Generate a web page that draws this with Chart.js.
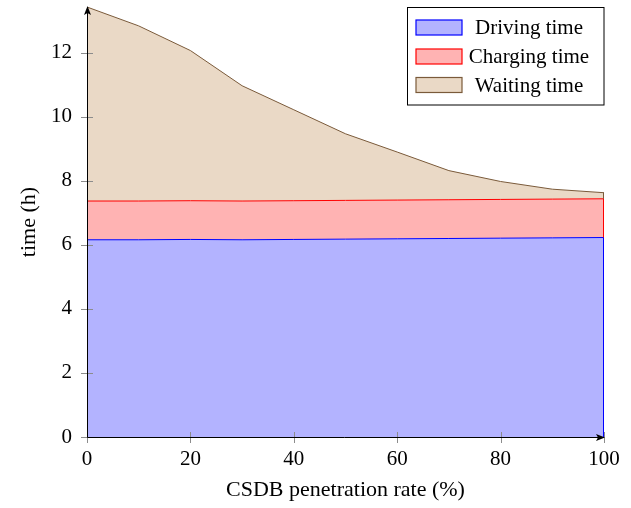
<!DOCTYPE html>
<html>
<head>
<meta charset="utf-8">
<script src="https://cdn.jsdelivr.net/npm/chart.js"></script>
<style>
  body { margin:0; padding:0; background:#ffffff }
  canvas { display:block }
</style>
</head>
<body>
<canvas id="chart" width="631" height="508"></canvas>
<script>
// values
const penetration = [0, 10, 20, 30, 40, 50, 60, 70, 80, 90, 100];
const drivingTime = [6.16, 6.16, 6.17, 6.16, 6.17, 6.18, 6.19, 6.20, 6.21, 6.22, 6.23];
const chargingTime = [1.21, 1.21, 1.21, 1.21, 1.21, 1.21, 1.21, 1.21, 1.21, 1.21, 1.21];
const waitingTime = [6.06, 5.47, 4.69, 3.60, 2.84, 2.08, 1.50, 0.91, 0.56, 0.31, 0.19];
const seriesNames = ['Driving time', 'Charging time', 'Waiting time'];
const xTicks = [0, 20, 40, 60, 80, 100];
const yTicks = [0, 2, 4, 6, 8, 10, 12];
const yMax = 13.43;

const serif = '"Liberation Serif", "Times New Roman", serif';
const toPoints = vals => vals.map((v, i) => ({ x: penetration[i], y: v }));

// axis lines with arrows, crossing ticks, closing edges, legend box
const paperPlugin = {
  id: 'paper',
  afterDatasetsDraw(chart) {
    const { ctx, chartArea: a, scales: { x, y } } = chart;
    ctx.save();

    // right-hand closing edge of every filled band
    let prev = null;
    chart.data.datasets.forEach((ds, i) => {
      const pts = chart.getDatasetMeta(i).data;
      const last = pts[pts.length - 1];
      const base = prev ? prev.y : y.getPixelForValue(0);
      ctx.strokeStyle = ds.borderColor;
      ctx.lineWidth = 1;
      ctx.beginPath();
      ctx.moveTo(Math.round(last.x) - 0.5, base);
      ctx.lineTo(Math.round(last.x) - 0.5, last.y);
      ctx.stroke();
      prev = last;
    });

    // ticks
    ctx.strokeStyle = '#8c8c8c';
    ctx.lineWidth = 1;
    ctx.beginPath();
    yTicks.forEach(t => {
      const py = Math.round(y.getPixelForValue(t)) + 0.5;
      ctx.moveTo(a.left - 6, py);
      ctx.lineTo(a.left + 6, py);
    });
    xTicks.forEach(t => {
      const px = Math.round(x.getPixelForValue(t)) + 0.5;
      ctx.moveTo(px, a.bottom - 5);
      ctx.lineTo(px, a.bottom + 6);
    });
    ctx.stroke();

    // axis lines
    const x0 = Math.round(a.left) + 0.5, y0 = Math.round(a.bottom) + 0.5;
    ctx.strokeStyle = '#000';
    ctx.beginPath();
    ctx.moveTo(x0, y0);
    ctx.lineTo(x0, a.top + 2);
    ctx.moveTo(x0, y0);
    ctx.lineTo(a.right - 2, y0);
    ctx.stroke();

    // arrow heads
    ctx.fillStyle = '#000';
    ctx.beginPath();
    ctx.moveTo(x0, a.top - 1);
    ctx.lineTo(x0 - 3.5, a.top + 8);
    ctx.lineTo(x0, a.top + 6);
    ctx.lineTo(x0 + 3.5, a.top + 8);
    ctx.closePath();
    ctx.fill();
    ctx.beginPath();
    ctx.moveTo(a.right + 1, y0);
    ctx.lineTo(a.right - 8, y0 - 3.5);
    ctx.lineTo(a.right - 6, y0);
    ctx.lineTo(a.right - 8, y0 + 3.5);
    ctx.closePath();
    ctx.fill();

    // legend
    ctx.fillStyle = '#fff';
    ctx.fillRect(407.5, 7.5, 196.5, 97.5);
    ctx.strokeStyle = '#000';
    ctx.strokeRect(407.5, 7.5, 196.5, 97.5);
    const rows = [27.5, 56.5, 85];
    ctx.font = '21px ' + serif;
    ctx.textAlign = 'center';
    ctx.textBaseline = 'middle';
    chart.data.datasets.forEach((ds, i) => {
      ctx.fillStyle = ds.backgroundColor;
      ctx.fillRect(416, rows[i] - 7.5, 46, 15);
      ctx.strokeStyle = ds.borderColor;
      ctx.lineWidth = 1.2;
      ctx.strokeRect(416, rows[i] - 7.5, 46, 15);
      ctx.fillStyle = '#000';
      ctx.fillText(ds.label, 529, rows[i] + 1);
    });
    ctx.restore();
  }
};

new Chart(document.getElementById('chart'), {
  type: 'line',
  data: {
    datasets: [
      { label: seriesNames[0], data: toPoints(drivingTime), fill: 'origin',
        backgroundColor: '#b3b3ff', borderColor: '#0000ff' },
      { label: seriesNames[1], data: toPoints(chargingTime), fill: '-1',
        backgroundColor: '#ffb3b3', borderColor: '#ff0000' },
      { label: seriesNames[2], data: toPoints(waitingTime), fill: '-1',
        backgroundColor: '#ead9c6', borderColor: '#7a5a3a' }
    ]
  },
  options: {
    responsive: false,
    animation: false,
    layout: { padding: { top: 7, right: 27, left: 0, bottom: 0 } },
    elements: {
      point: { radius: 0 },
      line: { tension: 0, borderWidth: 1 }
    },
    plugins: { legend: { display: false }, tooltip: { enabled: false } },
    scales: {
      x: {
        type: 'linear', min: 0, max: 100,
        grid: { display: false, drawTicks: false },
        border: { display: false },
        ticks: { stepSize: 20, padding: 10, color: '#000', font: { family: serif, size: 21 } },
        title: { display: true, text: 'CSDB penetration rate (%)', color: '#000',
                 font: { family: serif, size: 22 }, padding: { top: 0, bottom: 5 } },
        afterFit: s => {
          s.height = 71;
          s.paddingLeft = 0; s.paddingRight = 0;
        }
      },
      y: {
        stacked: true, min: 0, max: yMax,
        grid: { display: false, drawTicks: false },
        border: { display: false },
        ticks: { stepSize: 2, includeBounds: false, padding: 15, color: '#000',
                 font: { family: serif, size: 21 } },
        title: { display: true, text: 'time (h)', color: '#000',
                 font: { family: serif, size: 22 }, padding: { top: 16, bottom: 0 } },
        afterFit: s => {
          s.width = 87;
          s.paddingTop = 0; s.paddingBottom = 0;
        }
      }
    }
  },
  plugins: [paperPlugin]
});
</script>
</body>
</html>
